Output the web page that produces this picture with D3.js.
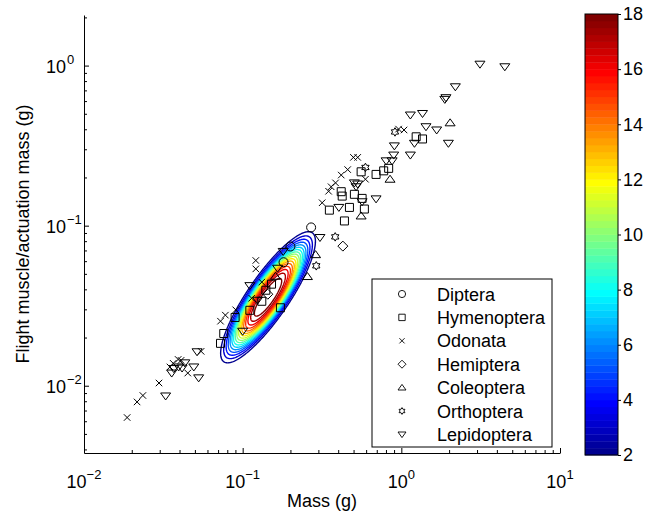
<!DOCTYPE html>
<html>
<head>
<meta charset="utf-8">
<script src="https://cdn.jsdelivr.net/npm/d3@7"></script>
<style>
  body { margin: 0; background: #fff; }
  svg text { font-family: "Liberation Sans", Arial, Helvetica, sans-serif; fill: #000; }
</style>
</head>
<body>
<svg id="chart" width="656" height="512"></svg>
<script>
// data: [body mass (g), flight muscle mass (g)]
const diptera = [[0.200, 0.0741], [0.270, 0.0975], [0.181, 0.0591]];
const hymenoptera = [
  [0.0760, 0.0212], [0.0725, 0.0184], [0.0896, 0.0267], [0.173, 0.0307], [0.438, 0.107],
  [0.352, 0.125], [0.418, 0.163], [0.424, 0.153], [0.471, 0.130], [0.506, 0.157],
  [0.566, 0.148], [0.585, 0.127], [0.558, 0.217], [0.693, 0.209], [0.774, 0.220],
  [0.832, 0.228], [1.24, 0.359], [1.36, 0.348], [0.140, 0.0395], [0.152, 0.0431],
  [0.111, 0.0296], [0.132, 0.0337]
];
const odonata = [
  [0.0187, 0.00633], [0.0216, 0.00792], [0.0235, 0.00869], [0.0297, 0.0104], [0.0348, 0.0131],
  [0.0365, 0.0138], [0.0392, 0.0146], [0.0409, 0.0144], [0.0451, 0.0120], [0.0547, 0.0164],
  [0.0725, 0.0253], [0.0778, 0.0276], [0.0904, 0.0298], [0.121, 0.0606], [0.121, 0.0537],
  [0.317, 0.139], [0.348, 0.164], [0.361, 0.175], [0.385, 0.185], [0.418, 0.207],
  [0.459, 0.224], [0.499, 0.267], [0.531, 0.267], [0.594, 0.195], [0.961, 0.401],
  [1.04, 0.396], [0.132, 0.0444], [0.114, 0.0352]
];
const hemiptera = [[0.428, 0.0745], [0.144, 0.0373]];
const coleoptera = [[0.256, 0.0481], [0.288, 0.0659], [0.558, 0.115], [0.849, 0.195], [2.03, 0.439], [0.161, 0.0483]];
const orthoptera = [[0.291, 0.0561], [0.383, 0.0851], [0.594, 0.231], [0.912, 0.385]];
const lepidoptera = [
  [0.0327, 0.00863], [0.0357, 0.0120], [0.0368, 0.0128], [0.0395, 0.0131], [0.0415, 0.0129],
  [0.0432, 0.0139], [0.0492, 0.0131], [0.0528, 0.0112], [0.0516, 0.0163], [0.111, 0.0422],
  [0.180, 0.0690], [0.307, 0.0843], [0.404, 0.130], [0.566, 0.141], [0.506, 0.185],
  [0.531, 0.182], [0.519, 0.175], [0.693, 0.147], [0.802, 0.254], [0.875, 0.254],
  [0.895, 0.276], [0.904, 0.315], [1.14, 0.276], [1.21, 0.327], [1.98, 0.327],
  [1.43, 0.415], [1.67, 0.396], [1.14, 0.491], [1.36, 0.502], [1.88, 0.615],
  [1.91, 0.630], [2.19, 0.737], [3.13, 1.02], [4.49, 0.983], [0.124, 0.0342],
  [0.166, 0.0542], [0.100, 0.0219]
];
const orderNames = ['Diptera', 'Hymenoptera', 'Odonata', 'Hemiptera', 'Coleoptera', 'Orthoptera', 'Lepidoptera'];

// axes
const xTicks = [0.01, 0.1, 1, 10];
const xTickExp = ['\u22122', '\u22121', '0', '1'];
const yTicks = [0.01, 0.1, 1];
const yTickExp = ['\u22122', '\u22121', '0'];

// density fit drawn as contours (log-log space)
const densityCenter = [0.1445, 0.0357];
const densityAxes = [0.49, 0.13];     // decades, level-2 contour half axes
const densityAngle = 55.3;            // degrees
const densityPeak = 19;
const densityShape = 3;
const contourLevels = [2, 3, 4, 5, 6, 7, 8, 9, 10, 11, 12, 13, 14, 15, 16, 17, 18];
const colorbarTicks = [2, 4, 6, 8, 10, 12, 14, 16, 18];
const colorRange = [2, 18];

// layout
const plot = { left: 84, right: 560, top: 15, bottom: 453 };
const cbar = { left: 585, right: 618, top: 14, bottom: 455 };
const fontSize = 18;

const svg = d3.select('#chart');

const x = d3.scaleLog().domain([0.01, 10]).range([plot.left, plot.right]);
const y = d3.scaleLog().domain([0.0038, 2.07]).range([plot.bottom, plot.top]);

// jet colormap, same construction as matlab jet(64)
function jet(n) {
  const m = Math.ceil(n / 4);
  const u = [];
  for (let k = 1; k <= m; k++) u.push(k / m);
  for (let k = 1; k < m; k++) u.push(1);
  for (let k = m; k >= 1; k--) u.push(k / m);
  const off = Math.ceil(m / 2) - (n % 4 === 1 ? 1 : 0);
  const cols = d3.range(n).map(() => [0, 0, 0]);
  u.forEach((val, k) => {
    const g = off + k + 1, r = g + m, b = g - m;
    if (g <= n) cols[g - 1][1] = val;
    if (r <= n) cols[r - 1][0] = val;
    if (b >= 1) cols[b - 1][2] = val;
  });
  return cols.map(c => d3.rgb(c[0] * 255, c[1] * 255, c[2] * 255).formatHex());
}
const jetColors = jet(64);
function levelColor(v) {
  const i = Math.floor((v - colorRange[0]) / (colorRange[1] - colorRange[0]) * 64);
  return jetColors[Math.max(0, Math.min(63, i))];
}

// contours
const nx = 260, ny = 260;
const u0 = -1.4, u1 = -0.3, v0 = -2.1, v1 = -0.8;
const du = (u1 - u0) / (nx - 1), dv = (v1 - v0) / (ny - 1);
const cu = Math.log10(densityCenter[0]), cv = Math.log10(densityCenter[1]);
const ang = densityAngle * Math.PI / 180;
const grid = new Array(nx * ny);
for (let j = 0; j < ny; j++) {
  for (let i = 0; i < nx; i++) {
    const a = u0 + i * du - cu, b = v0 + j * dv - cv;
    const s = a * Math.cos(ang) + b * Math.sin(ang);
    const t = -a * Math.sin(ang) + b * Math.cos(ang);
    const q = Math.sqrt((s / densityAxes[0]) ** 2 + (t / densityAxes[1]) ** 2);
    grid[j * nx + i] = densityPeak * Math.exp(-Math.log(densityPeak / 2) * Math.pow(q, densityShape));
  }
}
const contours = d3.contours().size([nx, ny]).thresholds(contourLevels)(grid);
const gridPath = d3.geoPath(d3.geoTransform({
  point(px, py) {
    this.stream.point(x(10 ** (u0 + (px - 0.5) * du)), y(10 ** (v0 + (py - 0.5) * dv)));
  }
}));

svg.append('g')
  .selectAll('path')
  .data(contours)
  .join('path')
  .attr('d', gridPath)
  .attr('fill', 'none')
  .attr('stroke', d => levelColor(d.value))
  .attr('stroke-width', 1.4);

// marker shapes
const shapes = {
  circle: { draw(c, s) { const r = s / 2; c.moveTo(r, 0); c.arc(0, 0, r, 0, 2 * Math.PI); } },
  square: { draw(c, s) { const r = s / 2; c.rect(-r, -r, s, s); } },
  cross: { draw(c, s) { const r = s / 2; c.moveTo(-r, -r); c.lineTo(r, r); c.moveTo(-r, r); c.lineTo(r, -r); } },
  diamond: { draw(c, s) { const r = s / 2; c.moveTo(0, -r); c.lineTo(r, 0); c.lineTo(0, r); c.lineTo(-r, 0); c.closePath(); } },
  triUp: { draw(c, s) { const r = s / 2; c.moveTo(0, -r * 0.8); c.lineTo(r, r * 0.6); c.lineTo(-r, r * 0.6); c.closePath(); } },
  triDown: { draw(c, s) { const r = s / 2; c.moveTo(0, r * 0.8); c.lineTo(r, -r * 0.6); c.lineTo(-r, -r * 0.6); c.closePath(); } },
  hexagram: { draw(c, s) {
    const R = s / 2, ri = R / Math.sqrt(3);
    for (let k = 0; k < 12; k++) {
      const rr = k % 2 ? ri : R, a = -Math.PI / 2 + k * Math.PI / 6;
      k ? c.lineTo(rr * Math.cos(a), rr * Math.sin(a)) : c.moveTo(rr * Math.cos(a), rr * Math.sin(a));
    }
    c.closePath();
  } }
};
const series = [
  { name: orderNames[0], data: diptera, shape: shapes.circle, size: 9 },
  { name: orderNames[1], data: hymenoptera, shape: shapes.square, size: 8 },
  { name: orderNames[2], data: odonata, shape: shapes.cross, size: 6.5 },
  { name: orderNames[3], data: hemiptera, shape: shapes.diamond, size: 10 },
  { name: orderNames[4], data: coleoptera, shape: shapes.triUp, size: 10 },
  { name: orderNames[5], data: orthoptera, shape: shapes.hexagram, size: 8.5 },
  { name: orderNames[6], data: lepidoptera, shape: shapes.triDown, size: 10 }
];

const marks = svg.append('g');
series.forEach(sr => {
  marks.append('g')
    .selectAll('path')
    .data(sr.data)
    .join('path')
    .attr('transform', d => `translate(${x(d[0])},${y(d[1])})`)
    .attr('d', d3.symbol().type(sr.shape).size(sr.size))
    .attr('fill', 'none')
    .attr('stroke', '#000')
    .attr('stroke-width', 1);
});

// axes
const minorX = x.ticks().filter(t => !xTicks.some(m => Math.abs(m - t) < 1e-9));
const minorY = y.ticks().filter(t => !yTicks.some(m => Math.abs(m - t) < 1e-9));

const gx = svg.append('g').attr('transform', `translate(0,${plot.bottom})`);
gx.call(d3.axisBottom(x).tickValues(xTicks).tickSize(-5).tickSizeOuter(0).tickFormat(''));
gx.append('g').call(d3.axisBottom(x).tickValues(minorX).tickSize(-3).tickSizeOuter(0).tickFormat(''))
  .select('.domain').remove();

const gy = svg.append('g').attr('transform', `translate(${plot.left},0)`);
gy.call(d3.axisLeft(y).tickValues(yTicks).tickSize(-5).tickSizeOuter(0).tickFormat(''));
gy.append('g').call(d3.axisLeft(y).tickValues(minorY).tickSize(-3).tickSizeOuter(0).tickFormat(''))
  .select('.domain').remove();

svg.selectAll('.domain, .tick line').attr('stroke', '#000').attr('stroke-width', 1);

// tick labels
xTicks.forEach((t, i) => {
  const lab = svg.append('text')
    .attr('x', x(t)).attr('y', 488)
    .attr('text-anchor', 'middle')
    .attr('font-size', fontSize)
    .text('10');
  lab.append('tspan').attr('dy', -9).attr('font-size', 13).text(xTickExp[i]);
});
yTicks.forEach((t, i) => {
  svg.append('text')
    .attr('x', 66).attr('y', y(t) + 7)
    .attr('text-anchor', 'end')
    .attr('font-size', fontSize)
    .text('10');
  svg.append('text')
    .attr('x', 67).attr('y', y(t) - 2)
    .attr('font-size', 13)
    .text(yTickExp[i]);
});

svg.append('text')
  .attr('x', (plot.left + plot.right) / 2).attr('y', 507)
  .attr('text-anchor', 'middle')
  .attr('font-size', fontSize)
  .text('Mass (g)');
svg.append('text')
  .attr('transform', `translate(29,${(plot.top + plot.bottom) / 2}) rotate(-90)`)
  .attr('text-anchor', 'middle')
  .attr('font-size', fontSize)
  .text('Flight muscle/actuation mass (g)');

// legend
const legend = svg.append('g');
legend.append('rect')
  .attr('x', 372).attr('y', 279).attr('width', 180).attr('height', 168)
  .attr('fill', '#fff').attr('stroke', '#000').attr('stroke-width', 1);
series.forEach((sr, i) => {
  const ly = 294 + i * 23.4;
  legend.append('path')
    .attr('transform', `translate(402,${ly})`)
    .attr('d', d3.symbol().type(sr.shape).size(sr.size * 0.8))
    .attr('fill', 'none').attr('stroke', '#000').attr('stroke-width', 0.9);
  legend.append('text')
    .attr('x', 437).attr('y', ly + 6.5)
    .attr('font-size', fontSize)
    .text(sr.name);
});

// colorbar
const c = d3.scaleLinear().domain(colorRange).range([cbar.bottom, cbar.top]);
const bandStep = (colorRange[1] - colorRange[0]) / jetColors.length;
svg.append('g')
  .selectAll('rect')
  .data(jetColors)
  .join('rect')
  .attr('x', cbar.left)
  .attr('y', (d, i) => c(colorRange[0] + (i + 1) * bandStep))
  .attr('width', cbar.right - cbar.left)
  .attr('height', (d, i) => c(colorRange[0] + i * bandStep) - c(colorRange[0] + (i + 1) * bandStep) + 0.4)
  .attr('fill', d => d);
svg.append('rect')
  .attr('x', cbar.left).attr('y', cbar.top)
  .attr('width', cbar.right - cbar.left).attr('height', cbar.bottom - cbar.top)
  .attr('fill', 'none').attr('stroke', '#000').attr('stroke-width', 1);

const gc = svg.append('g').attr('transform', `translate(${cbar.right},0)`);
gc.call(d3.axisRight(c).tickValues(colorbarTicks).tickSize(3).tickSizeOuter(0).tickPadding(2));
gc.select('.domain').remove();
gc.selectAll('.tick line').attr('stroke', '#000');
gc.selectAll('.tick text')
  .attr('font-size', fontSize)
  .attr('font-family', '"Liberation Sans", Arial, sans-serif')
  .attr('fill', '#000');
</script>
</body>
</html>
